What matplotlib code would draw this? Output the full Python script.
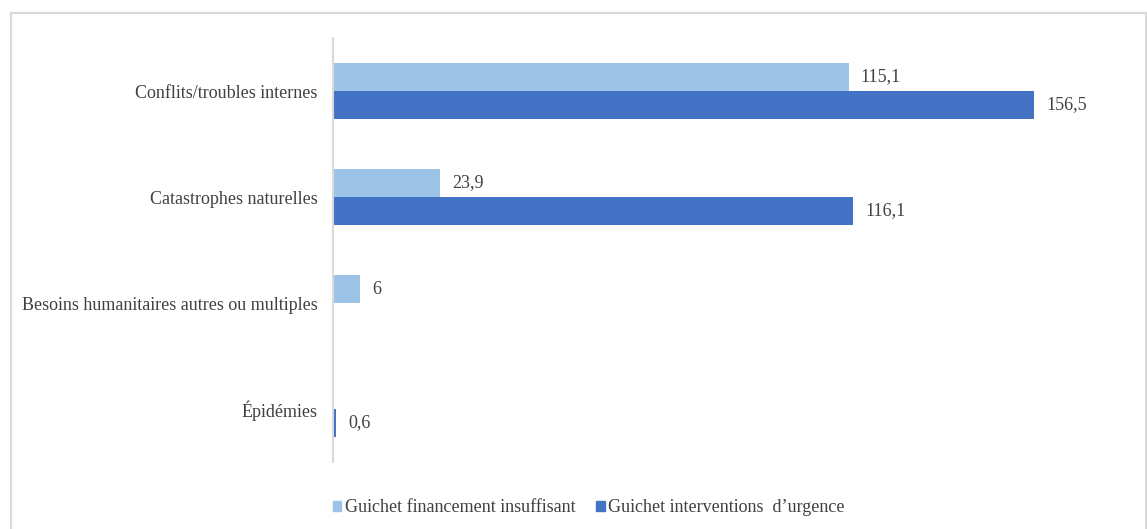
import matplotlib
matplotlib.use("Agg")
import matplotlib.pyplot as plt
from matplotlib.patches import Rectangle, Patch

plt.rcParams['font.family'] = ['Liberation Serif', 'DejaVu Serif']

categories = ["Conflits/troubles internes", "Catastrophes naturelles",
              "Besoins humanitaires autres ou multiples", "Épidémies"]
financement_insuffisant = [115.1, 23.9, 6.0, 0.0]
interventions_urgence = [156.5, 116.1, 0.0, 0.6]
series_names = ["Guichet financement insuffisant", "Guichet interventions  d’urgence"]
colors = ["#9dc3e6", "#4472c4"]
text_color = "#404040"
grid_gray = "#d9d9d9"
fs = 13

W, H = 1147, 529
fig = plt.figure(figsize=(W / 100, H / 100), dpi=100)

# plot area in pixel terms
left_px, right_px, top_px, bottom_px = 333, 1117, 38, 462
ax = fig.add_axes([left_px / W, 1 - bottom_px / H,
                   (right_px - left_px) / W, (bottom_px - top_px) / H])

n = len(categories)
pos = list(range(n))
bar_h = 28 / 106
ax.barh([p - bar_h / 2 for p in pos], financement_insuffisant, height=bar_h,
        color=colors[0], label=series_names[0])
ax.barh([p + bar_h / 2 for p in pos], interventions_urgence, height=bar_h,
        color=colors[1], label=series_names[1])

ax.set_ylim(n - 0.5, -0.5)
ax.set_xlim(0, 175)


def fmt(v):
    return f"{v:g}".replace('.', ',')


for p, v in zip(pos, financement_insuffisant):
    if v:
        ax.annotate(fmt(v), (v, p - bar_h / 2), xytext=(8.8, 0), textcoords="offset points",
                    ha="left", va="center", fontsize=fs, color=text_color)
for p, v in zip(pos, interventions_urgence):
    if v:
        ax.annotate(fmt(v), (v, p + bar_h / 2), xytext=(9, 0), textcoords="offset points",
                    ha="left", va="center", fontsize=fs, color=text_color)

ax.set_yticks(pos)
ax.set_yticklabels(categories, fontsize=fs, color=text_color)
ax.tick_params(axis="y", length=0, pad=11)
ax.set_xticks([])
for side in ("top", "right", "bottom"):
    ax.spines[side].set_visible(False)
ax.spines["left"].set_color(grid_gray)
ax.spines["left"].set_linewidth(1.5)

handles = [Patch(color=c) for c in colors]
fig.legend(handles, series_names, loc="center", bbox_to_anchor=(589 / W, 1 - 508 / H),
           ncol=2, frameon=False, fontsize=fs, handlelength=0.45, handleheight=0.45,
           handletextpad=0.2, columnspacing=1.15, labelcolor=text_color)

# outer frame
fig.patches.append(Rectangle((11 / W, -0.05), (1146 - 11) / W, 1.05 - 13 / H,
                             transform=fig.transFigure, fill=False,
                             edgecolor=grid_gray, linewidth=1.5))

fig.savefig("out.png", dpi=100)
